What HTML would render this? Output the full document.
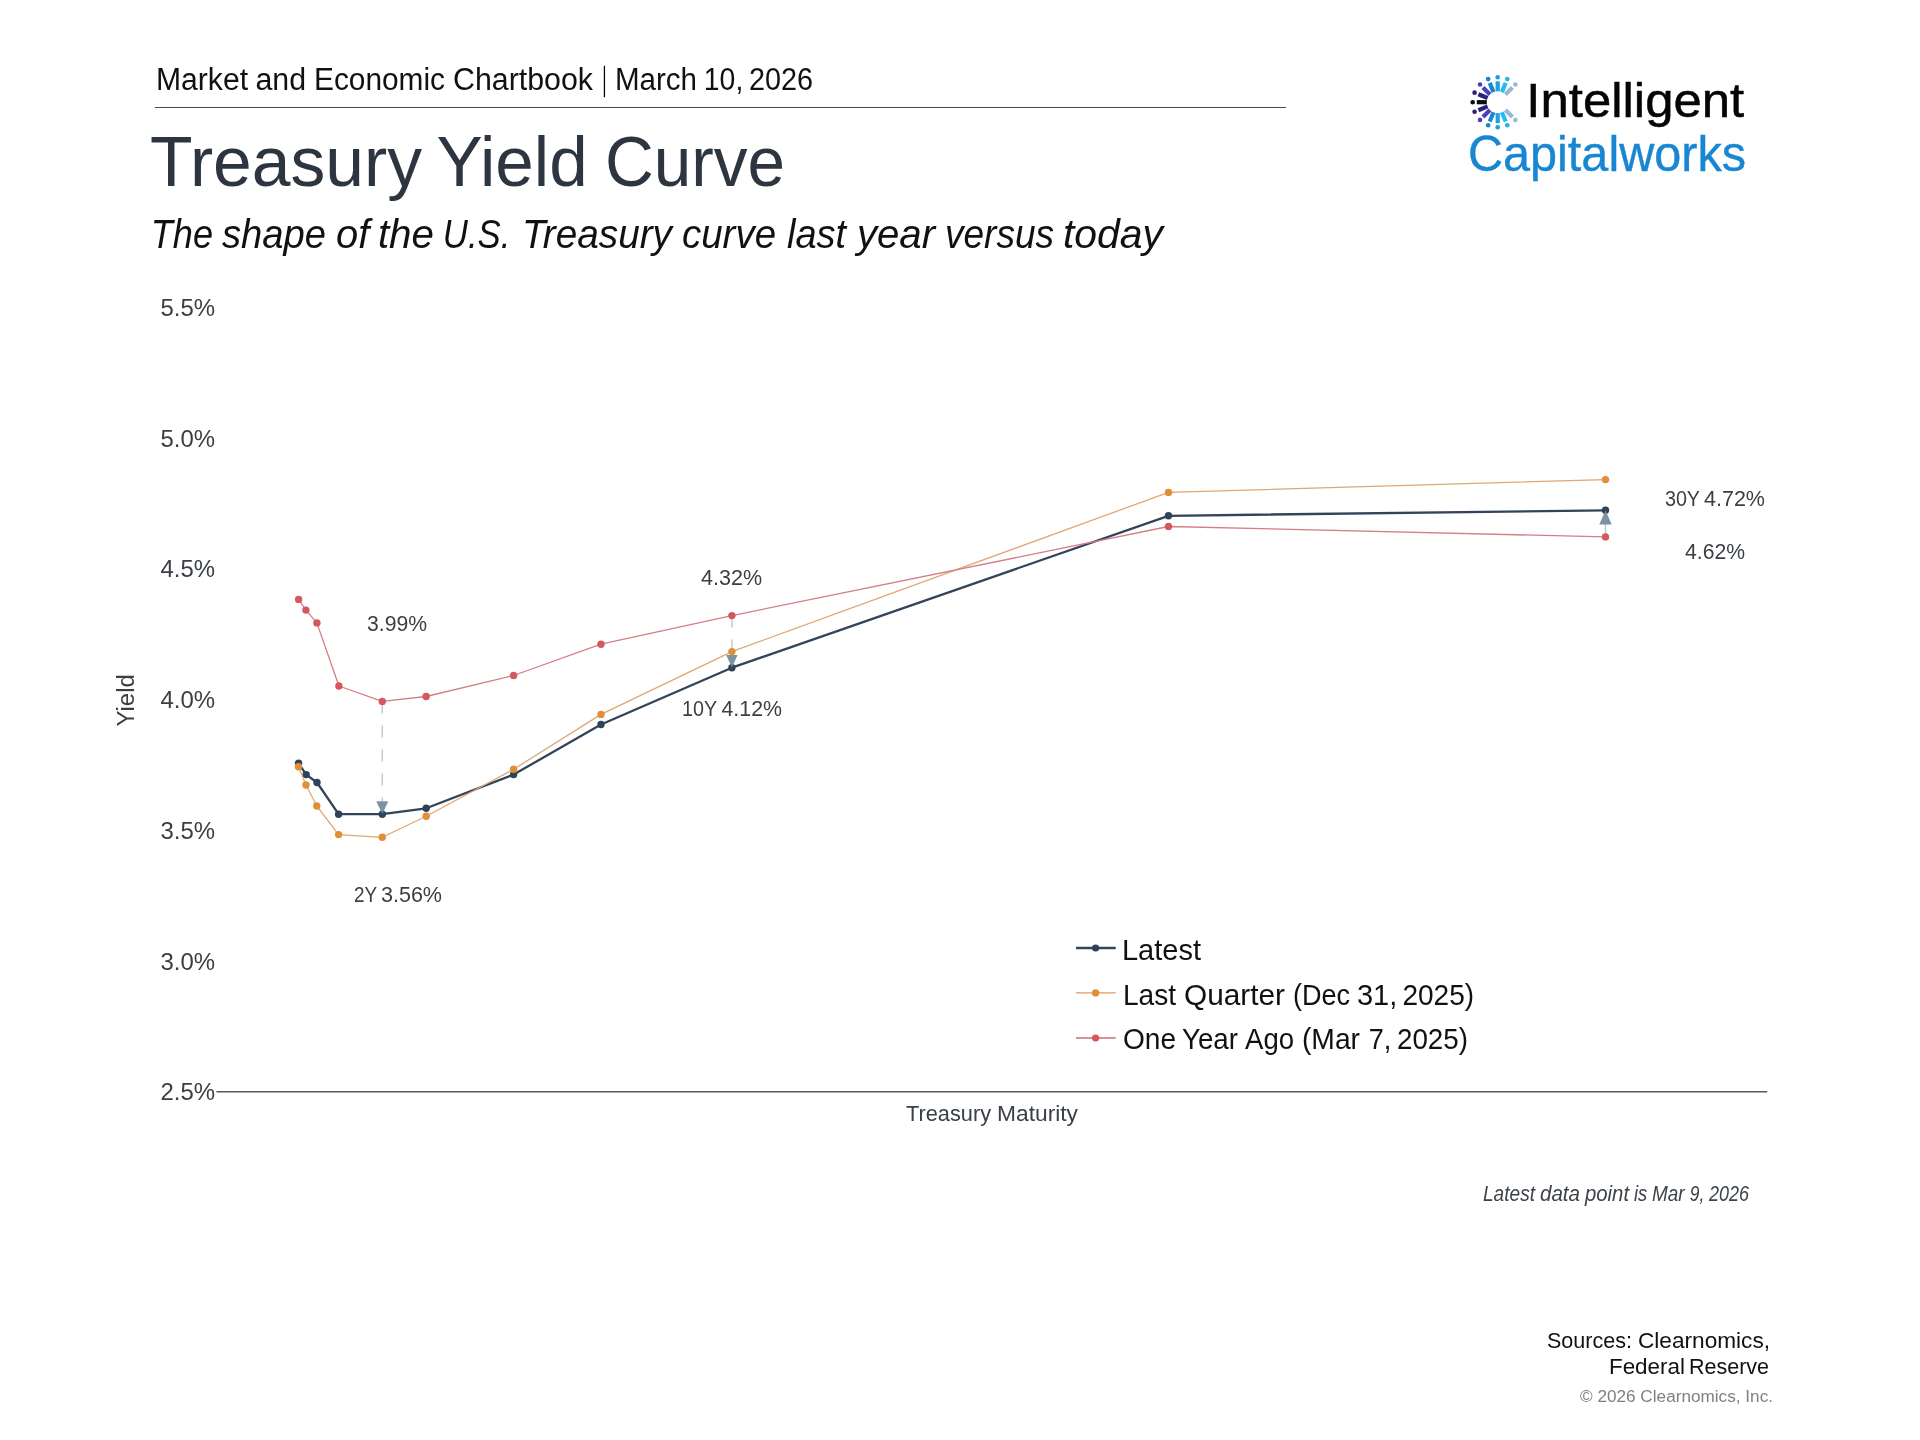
<!DOCTYPE html>
<html><head><meta charset="utf-8"><style>
html,body{margin:0;padding:0;background:#fff;width:1920px;height:1440px;overflow:hidden}
svg{position:absolute;left:0;top:0;font-family:"Liberation Sans", sans-serif;will-change:transform}
</style></head><body>
<svg width="1920" height="1440" viewBox="0 0 1920 1440">
<line x1="155" y1="107.5" x2="1286" y2="107.5" stroke="#464b51" stroke-width="1.1"/>
<line x1="216.4" y1="1091.8" x2="1767.3" y2="1091.8" stroke="#555a5f" stroke-width="1.6"/>
<g><line x1="1505.41" y1="94.49" x2="1512.48" y2="87.42" stroke="#9cb6d6" stroke-width="4.2"/><circle cx="1515.38" cy="84.52" r="2.3" fill="#a2b8d2"/><line x1="1501.87" y1="92.13" x2="1505.70" y2="82.89" stroke="#22bdee" stroke-width="4.2"/><circle cx="1507.27" cy="79.10" r="2.3" fill="#27b3e3"/><line x1="1497.70" y1="91.30" x2="1497.70" y2="81.30" stroke="#1ca3df" stroke-width="4.2"/><circle cx="1497.70" cy="77.20" r="2.3" fill="#1c9fd8"/><line x1="1493.53" y1="92.13" x2="1489.70" y2="82.89" stroke="#1a86d0" stroke-width="4.2"/><circle cx="1488.13" cy="79.10" r="2.3" fill="#1a82c6"/><line x1="1489.99" y1="94.49" x2="1482.92" y2="87.42" stroke="#4a3fc2" stroke-width="4.2"/><circle cx="1480.02" cy="84.52" r="2.3" fill="#4a3fb8"/><line x1="1487.63" y1="98.03" x2="1478.39" y2="94.20" stroke="#2a2178" stroke-width="4.2"/><circle cx="1474.60" cy="92.63" r="2.3" fill="#2b2170"/><line x1="1486.80" y1="102.20" x2="1476.80" y2="102.20" stroke="#0a0a14" stroke-width="4.2"/><circle cx="1472.70" cy="102.20" r="2.3" fill="#0a0a10"/><line x1="1487.63" y1="106.37" x2="1478.39" y2="110.20" stroke="#2a2178" stroke-width="4.2"/><circle cx="1474.60" cy="111.77" r="2.3" fill="#2b2170"/><line x1="1489.99" y1="109.91" x2="1482.92" y2="116.98" stroke="#4a3fc2" stroke-width="4.2"/><circle cx="1480.02" cy="119.88" r="2.3" fill="#4a3fb8"/><line x1="1493.53" y1="112.27" x2="1489.70" y2="121.51" stroke="#1a86d0" stroke-width="4.2"/><circle cx="1488.13" cy="125.30" r="2.3" fill="#1a82c6"/><line x1="1497.70" y1="113.10" x2="1497.70" y2="123.10" stroke="#1ca3df" stroke-width="4.2"/><circle cx="1497.70" cy="127.20" r="2.3" fill="#1c9fd8"/><line x1="1501.87" y1="112.27" x2="1505.70" y2="121.51" stroke="#22bdee" stroke-width="4.2"/><circle cx="1507.27" cy="125.30" r="2.3" fill="#27b3e3"/><line x1="1505.41" y1="109.91" x2="1512.48" y2="116.98" stroke="#9cb6d6" stroke-width="4.2"/><circle cx="1515.38" cy="119.88" r="2.3" fill="#a2b8d2"/></g>
<line x1="382.3" y1="701.4" x2="382.3" y2="801" stroke="#bfc6cd" stroke-width="1.4" stroke-dasharray="12 12"/><line x1="731.9" y1="615.6" x2="731.9" y2="655" stroke="#bfc6cd" stroke-width="1.4" stroke-dasharray="12 12"/><line x1="1605.5" y1="536.9" x2="1605.5" y2="524" stroke="#bfc6cd" stroke-width="1.4"/>
<polyline points="298.6,763.3 306.2,774.6 317.0,782.5 338.6,814.2 382.3,814.2 426.2,808.3 513.6,774.6 601.0,724.5 731.9,667.7 1168.5,515.8 1605.5,510.3" fill="none" stroke="#33445a" stroke-width="2.3" stroke-linejoin="round"/>
<circle cx="298.6" cy="763.3" r="3.7" fill="#2f4256"/><circle cx="306.2" cy="774.6" r="3.7" fill="#2f4256"/><circle cx="317.0" cy="782.5" r="3.7" fill="#2f4256"/><circle cx="338.6" cy="814.2" r="3.7" fill="#2f4256"/><circle cx="382.3" cy="814.2" r="3.7" fill="#2f4256"/><circle cx="426.2" cy="808.3" r="3.7" fill="#2f4256"/><circle cx="513.6" cy="774.6" r="3.7" fill="#2f4256"/><circle cx="601.0" cy="724.5" r="3.7" fill="#2f4256"/><circle cx="731.9" cy="667.7" r="3.7" fill="#2f4256"/><circle cx="1168.5" cy="515.8" r="3.7" fill="#2f4256"/><circle cx="1605.5" cy="510.3" r="3.7" fill="#2f4256"/>
<polyline points="298.4,766.7 306.0,785.0 316.8,806.0 338.6,834.6 382.3,837.3 426.2,816.2 513.6,769.3 601.0,714.4 731.9,651.6 1168.5,492.4 1605.5,479.6" fill="none" stroke="#dea774" stroke-width="1.25" stroke-linejoin="round"/>
<circle cx="298.4" cy="766.7" r="3.7" fill="#e08f36"/><circle cx="306.0" cy="785.0" r="3.7" fill="#e08f36"/><circle cx="316.8" cy="806.0" r="3.7" fill="#e08f36"/><circle cx="338.6" cy="834.6" r="3.7" fill="#e08f36"/><circle cx="382.3" cy="837.3" r="3.7" fill="#e08f36"/><circle cx="426.2" cy="816.2" r="3.7" fill="#e08f36"/><circle cx="513.6" cy="769.3" r="3.7" fill="#e08f36"/><circle cx="601.0" cy="714.4" r="3.7" fill="#e08f36"/><circle cx="731.9" cy="651.6" r="3.7" fill="#e08f36"/><circle cx="1168.5" cy="492.4" r="3.7" fill="#e08f36"/><circle cx="1605.5" cy="479.6" r="3.7" fill="#e08f36"/>
<polyline points="298.6,599.4 305.9,610.1 316.9,622.9 338.9,686.0 382.3,701.4 426.1,696.5 513.6,675.5 601.0,644.2 731.9,615.6 1168.5,526.5 1605.5,536.9" fill="none" stroke="#d47e86" stroke-width="1.3" stroke-linejoin="round"/>
<circle cx="298.6" cy="599.4" r="3.7" fill="#d5585f"/><circle cx="305.9" cy="610.1" r="3.7" fill="#d5585f"/><circle cx="316.9" cy="622.9" r="3.7" fill="#d5585f"/><circle cx="338.9" cy="686.0" r="3.7" fill="#d5585f"/><circle cx="382.3" cy="701.4" r="3.7" fill="#d5585f"/><circle cx="426.1" cy="696.5" r="3.7" fill="#d5585f"/><circle cx="513.6" cy="675.5" r="3.7" fill="#d5585f"/><circle cx="601.0" cy="644.2" r="3.7" fill="#d5585f"/><circle cx="731.9" cy="615.6" r="3.7" fill="#d5585f"/><circle cx="1168.5" cy="526.5" r="3.7" fill="#d5585f"/><circle cx="1605.5" cy="536.9" r="3.7" fill="#d5585f"/>
<polygon points="376.3,801.3 388.3,801.3 382.3,814.2" fill="#6d8798" fill-opacity="0.9"/><polygon points="726.2,655 737.6,655 731.9,667.7" fill="#6d8798" fill-opacity="0.9"/><polygon points="1599.3,524.4 1611.7,524.4 1605.5,510.3" fill="#6d8798" fill-opacity="0.9"/>
<line x1="1076" y1="948" x2="1115.7" y2="948" stroke="#33465a" stroke-width="2.6"/><circle cx="1095.6" cy="948" r="3.6" fill="#2f4256"/><line x1="1076" y1="992.9" x2="1115.7" y2="992.9" stroke="#dc9a5e" stroke-width="1.3"/><circle cx="1095.6" cy="992.9" r="3.6" fill="#e08f36"/><line x1="1076" y1="1038" x2="1115.7" y2="1038" stroke="#cc6d75" stroke-width="1.3"/><circle cx="1095.6" cy="1038" r="3.6" fill="#d5585f"/>
<text x="155.96" y="89.7" font-size="30.8" fill="#111" textLength="92.06" lengthAdjust="spacingAndGlyphs">Market</text><text x="255.43" y="89.7" font-size="30.8" fill="#111" textLength="50.63" lengthAdjust="spacingAndGlyphs">and</text><text x="313.97" y="89.7" font-size="30.8" fill="#111" textLength="131.05" lengthAdjust="spacingAndGlyphs">Economic</text><text x="452.98" y="89.7" font-size="30.8" fill="#111" textLength="140.04" lengthAdjust="spacingAndGlyphs">Chartbook</text><text x="614.89" y="89.7" font-size="30.8" fill="#111" textLength="82.19" lengthAdjust="spacingAndGlyphs">March</text><text x="703.84" y="89.7" font-size="30.8" fill="#111" textLength="39.44" lengthAdjust="spacingAndGlyphs">10,</text><text x="748.97" y="89.7" font-size="30.8" fill="#111" textLength="64.09" lengthAdjust="spacingAndGlyphs">2026</text><text x="149.99" y="186.0" font-size="70.6" fill="#2d3640" textLength="272.01" lengthAdjust="spacingAndGlyphs">Treasury</text><text x="436.40" y="186.0" font-size="70.6" fill="#2d3640" textLength="151.27" lengthAdjust="spacingAndGlyphs">Yield</text><text x="604.91" y="186.0" font-size="70.6" fill="#2d3640" textLength="180.19" lengthAdjust="spacingAndGlyphs">Curve</text><text x="150.81" y="248.4" font-size="40.6" fill="#111" font-style="italic" textLength="62.26" lengthAdjust="spacingAndGlyphs">The</text><text x="222.00" y="248.4" font-size="40.6" fill="#111" font-style="italic" textLength="104.02" lengthAdjust="spacingAndGlyphs">shape</text><text x="336.08" y="248.4" font-size="40.6" fill="#111" font-style="italic" textLength="33.26" lengthAdjust="spacingAndGlyphs">of</text><text x="377.90" y="248.4" font-size="40.6" fill="#111" font-style="italic" textLength="56.17" lengthAdjust="spacingAndGlyphs">the</text><text x="442.81" y="248.4" font-size="40.6" fill="#111" font-style="italic" textLength="67.58" lengthAdjust="spacingAndGlyphs">U.S.</text><text x="521.96" y="248.4" font-size="40.6" fill="#111" font-style="italic" textLength="150.02" lengthAdjust="spacingAndGlyphs">Treasury</text><text x="681.97" y="248.4" font-size="40.6" fill="#111" font-style="italic" textLength="94.06" lengthAdjust="spacingAndGlyphs">curve</text><text x="786.99" y="248.4" font-size="40.6" fill="#111" font-style="italic" textLength="59.02" lengthAdjust="spacingAndGlyphs">last</text><text x="856.92" y="248.4" font-size="40.6" fill="#111" font-style="italic" textLength="78.16" lengthAdjust="spacingAndGlyphs">year</text><text x="944.94" y="248.4" font-size="40.6" fill="#111" font-style="italic" textLength="109.10" lengthAdjust="spacingAndGlyphs">versus</text><text x="1063.00" y="248.4" font-size="40.6" fill="#111" font-style="italic" textLength="100.01" lengthAdjust="spacingAndGlyphs">today</text><text x="1526.34" y="116.8" font-size="47.8" fill="#050505" textLength="217.86" lengthAdjust="spacingAndGlyphs" stroke="#050505" stroke-width="0.5">Intelligent</text><text x="1467.97" y="171.0" font-size="49.6" fill="#1886d2" textLength="278.06" lengthAdjust="spacingAndGlyphs" stroke="#1886d2" stroke-width="0.4">Capitalworks</text><text x="160.47" y="316.0" font-size="23.7" fill="#3a3f44" textLength="54.56" lengthAdjust="spacingAndGlyphs">5.5%</text><text x="160.47" y="446.7" font-size="23.7" fill="#3a3f44" textLength="54.56" lengthAdjust="spacingAndGlyphs">5.0%</text><text x="160.46" y="577.4" font-size="23.7" fill="#3a3f44" textLength="54.58" lengthAdjust="spacingAndGlyphs">4.5%</text><text x="160.46" y="708.1" font-size="23.7" fill="#3a3f44" textLength="54.58" lengthAdjust="spacingAndGlyphs">4.0%</text><text x="160.47" y="838.8" font-size="23.7" fill="#3a3f44" textLength="54.56" lengthAdjust="spacingAndGlyphs">3.5%</text><text x="160.47" y="969.5" font-size="23.7" fill="#3a3f44" textLength="54.56" lengthAdjust="spacingAndGlyphs">3.0%</text><text x="160.47" y="1100.2" font-size="23.7" fill="#3a3f44" textLength="54.56" lengthAdjust="spacingAndGlyphs">2.5%</text><text x="905.99" y="1121.3" font-size="22.3" fill="#3a4047" textLength="85.02" lengthAdjust="spacingAndGlyphs">Treasury</text><text x="996.99" y="1121.3" font-size="22.3" fill="#3a4047" textLength="81.02" lengthAdjust="spacingAndGlyphs">Maturity</text><text x="366.98" y="631.2" font-size="22.8" fill="#3a3f44" textLength="60.05" lengthAdjust="spacingAndGlyphs">3.99%</text><text x="353.94" y="901.5" font-size="22.8" fill="#3a3f44" textLength="23.10" lengthAdjust="spacingAndGlyphs">2Y</text><text x="380.95" y="901.5" font-size="22.8" fill="#3a3f44" textLength="61.08" lengthAdjust="spacingAndGlyphs">3.56%</text><text x="700.97" y="584.8" font-size="22.8" fill="#3a3f44" textLength="61.06" lengthAdjust="spacingAndGlyphs">4.32%</text><text x="681.93" y="716.0" font-size="22.8" fill="#3a3f44" textLength="35.14" lengthAdjust="spacingAndGlyphs">10Y</text><text x="721.49" y="716.0" font-size="22.8" fill="#3a3f44" textLength="60.52" lengthAdjust="spacingAndGlyphs">4.12%</text><text x="1664.97" y="506.3" font-size="22.8" fill="#3a3f44" textLength="35.04" lengthAdjust="spacingAndGlyphs">30Y</text><text x="1703.98" y="506.3" font-size="22.8" fill="#3a3f44" textLength="61.04" lengthAdjust="spacingAndGlyphs">4.72%</text><text x="1684.97" y="558.9" font-size="22.8" fill="#3a3f44" textLength="60.05" lengthAdjust="spacingAndGlyphs">4.62%</text><text x="1121.94" y="960.3" font-size="30.0" fill="#111" textLength="79.07" lengthAdjust="spacingAndGlyphs">Latest</text><text x="1122.95" y="1005.0" font-size="30.0" fill="#111" textLength="53.08" lengthAdjust="spacingAndGlyphs">Last</text><text x="1183.98" y="1005.0" font-size="30.0" fill="#111" textLength="101.02" lengthAdjust="spacingAndGlyphs">Quarter</text><text x="1292.98" y="1005.0" font-size="30.0" fill="#111" textLength="57.05" lengthAdjust="spacingAndGlyphs">(Dec</text><text x="1356.92" y="1005.0" font-size="30.0" fill="#111" textLength="40.30" lengthAdjust="spacingAndGlyphs">31,</text><text x="1402.43" y="1005.0" font-size="30.0" fill="#111" textLength="71.65" lengthAdjust="spacingAndGlyphs">2025)</text><text x="1122.96" y="1049.3" font-size="30.0" fill="#111" textLength="53.10" lengthAdjust="spacingAndGlyphs">One</text><text x="1181.98" y="1049.3" font-size="30.0" fill="#111" textLength="56.03" lengthAdjust="spacingAndGlyphs">Year</text><text x="1245.00" y="1049.3" font-size="30.0" fill="#111" textLength="49.04" lengthAdjust="spacingAndGlyphs">Ago</text><text x="1301.96" y="1049.3" font-size="30.0" fill="#111" textLength="58.06" lengthAdjust="spacingAndGlyphs">(Mar</text><text x="1368.78" y="1049.3" font-size="30.0" fill="#111" textLength="22.61" lengthAdjust="spacingAndGlyphs">7,</text><text x="1396.96" y="1049.3" font-size="30.0" fill="#111" textLength="71.07" lengthAdjust="spacingAndGlyphs">2025)</text><text x="1482.99" y="1200.8" font-size="21.8" fill="#3d4349" font-style="italic" textLength="52.02" lengthAdjust="spacingAndGlyphs">Latest</text><text x="1539.94" y="1200.8" font-size="21.8" fill="#3d4349" font-style="italic" textLength="40.12" lengthAdjust="spacingAndGlyphs">data</text><text x="1584.97" y="1200.8" font-size="21.8" fill="#3d4349" font-style="italic" textLength="44.07" lengthAdjust="spacingAndGlyphs">point</text><text x="1633.91" y="1200.8" font-size="21.8" fill="#3d4349" font-style="italic" textLength="13.22" lengthAdjust="spacingAndGlyphs">is</text><text x="1652.01" y="1200.8" font-size="21.8" fill="#3d4349" font-style="italic" textLength="32.55" lengthAdjust="spacingAndGlyphs">Mar</text><text x="1689.81" y="1200.8" font-size="21.8" fill="#3d4349" font-style="italic" textLength="14.51" lengthAdjust="spacingAndGlyphs">9,</text><text x="1708.98" y="1200.8" font-size="21.8" fill="#3d4349" font-style="italic" textLength="40.03" lengthAdjust="spacingAndGlyphs">2026</text><text x="1546.97" y="1348.3" font-size="22.8" fill="#111" textLength="85.08" lengthAdjust="spacingAndGlyphs">Sources:</text><text x="1637.97" y="1348.3" font-size="22.8" fill="#111" textLength="132.08" lengthAdjust="spacingAndGlyphs">Clearnomics,</text><text x="1608.93" y="1373.8" font-size="22.9" fill="#111" textLength="76.10" lengthAdjust="spacingAndGlyphs">Federal</text><text x="1688.97" y="1373.8" font-size="22.9" fill="#111" textLength="80.07" lengthAdjust="spacingAndGlyphs">Reserve</text><text x="1579.99" y="1402.0" font-size="17.3" fill="#7c8186" textLength="193.03" lengthAdjust="spacingAndGlyphs">© 2026 Clearnomics, Inc.</text><rect x="603.8" y="65.8" width="1.25" height="31.4" fill="#000"/><text x="0" y="0" font-size="23" fill="#3a3f44" textLength="52.5" lengthAdjust="spacingAndGlyphs" transform="translate(133.6,726.6) rotate(-90)">Yield</text>
</svg>
</body></html>
